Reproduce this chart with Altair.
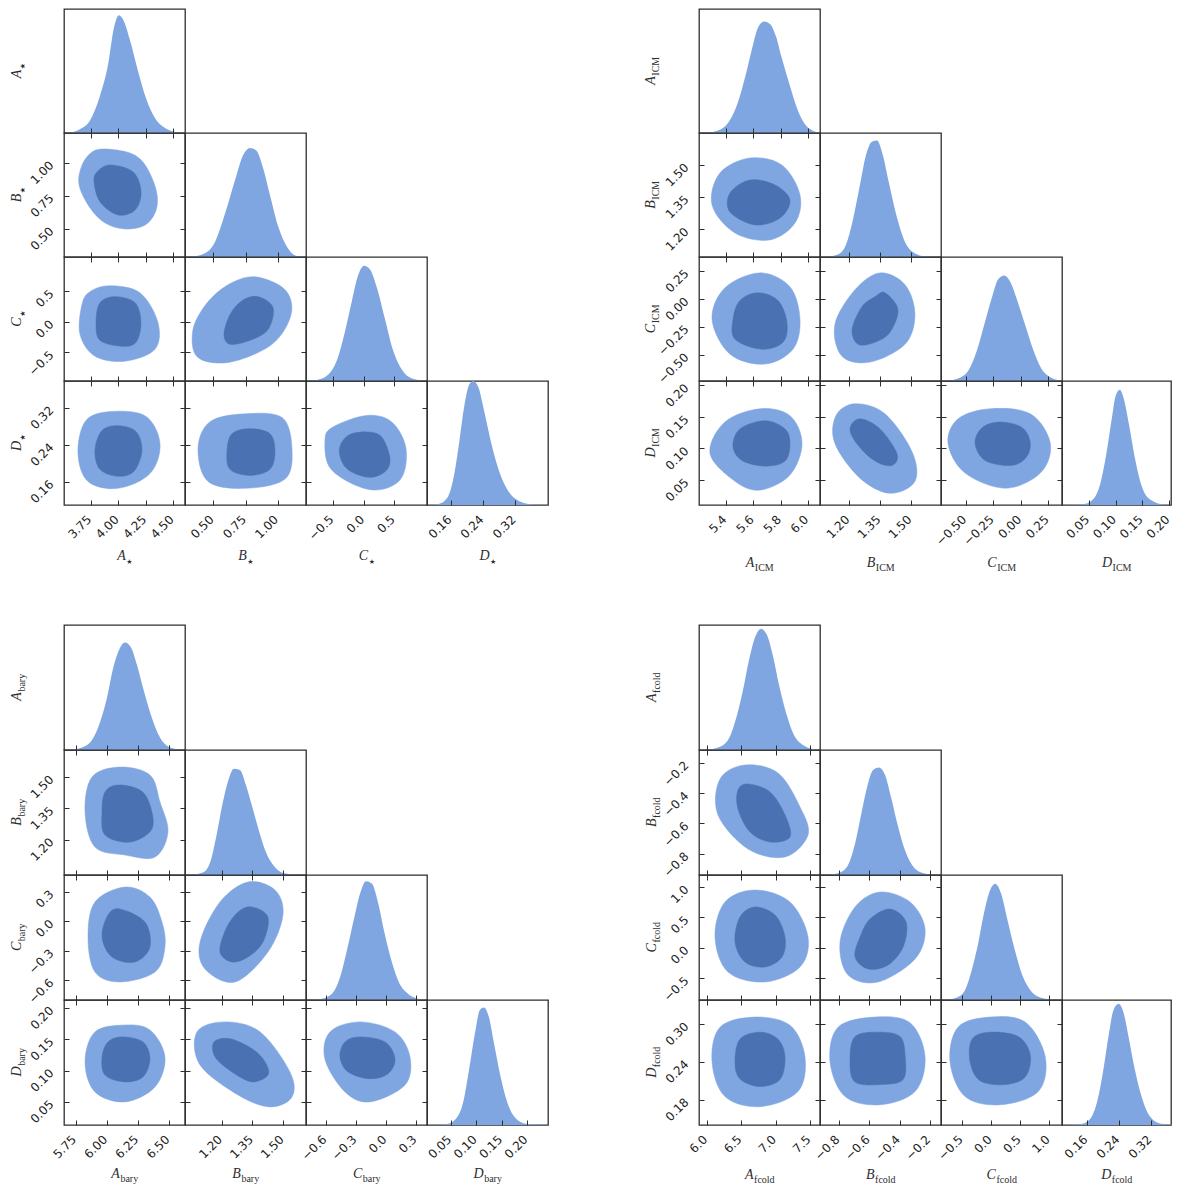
import altair as alt
import pandas as pd

INK = "#2e2e2e"
LIGHT = "#7fa6e1"
DARK = "#4a72b2"
SANS = "DejaVu Sans"
SERIF = "Liberation Serif, DejaVu Serif, serif"

# ---------------- corner 1 : star ----------------
STAR_XDOM = [[3.507, 4.606], [0.28, 1.22], [-0.94, 1.03], [0.10, 0.4015]]
STAR_YDOM = [None, [0.286, 1.225], [-0.966, 1.06], [0.11, 0.378]]
STAR_XTICKS = [[3.75, 4.0, 4.25, 4.5], [0.5, 0.75, 1.0], [-0.5, 0.0, 0.5], [0.16, 0.24, 0.32]]
STAR_YTICKS = [None, [0.5, 0.75, 1.0], [-0.5, 0.0, 0.5], [0.16, 0.24, 0.32]]
STAR_FMT = [".2f", ".2f", ".1f", ".2f"]

STAR_A_MX = [3.56, 3.652, 3.743, 3.834, 3.907, 3.961, 4.006, 4.052, 4.106, 4.179, 4.252, 4.333, 4.424, 4.542, 4.606]
STAR_A_MD = [0, 0.03, 0.1, 0.3, 0.55, 0.85, 0.95, 0.9, 0.75, 0.5, 0.28, 0.12, 0.04, 0.005, 0]
STAR_B_MX = [0.319, 0.435, 0.513, 0.591, 0.669, 0.731, 0.785, 0.832, 0.886, 0.94, 1.003, 1.073, 1.142, 1.22]
STAR_B_MD = [0, 0.03, 0.12, 0.35, 0.62, 0.82, 0.88, 0.86, 0.72, 0.5, 0.25, 0.08, 0.01, 0]
STAR_C_MX = [-0.94, -0.745, -0.582, -0.435, -0.305, -0.191, -0.093, 0.004, 0.102, 0.216, 0.346, 0.476, 0.623, 0.786, 1.03]
STAR_C_MD = [0, 0.01, 0.05, 0.17, 0.4, 0.65, 0.85, 0.93, 0.9, 0.75, 0.5, 0.25, 0.09, 0.02, 0]
STAR_D_MX = [0.106, 0.131, 0.151, 0.168, 0.18, 0.193, 0.205, 0.215, 0.228, 0.243, 0.26, 0.28, 0.305, 0.33, 0.362, 0.40]
STAR_D_MD = [0, 0.01, 0.06, 0.25, 0.5, 0.8, 0.97, 1.0, 0.95, 0.75, 0.5, 0.27, 0.1, 0.03, 0.005, 0]

STAR_AB_OUT = [(3.88, 1.104), (4.107, 1.073), (4.244, 0.983), (4.344, 0.793), (4.344, 0.642), (4.244, 0.528),
               (4.062, 0.498), (3.88, 0.543), (3.744, 0.657), (3.644, 0.831), (3.671, 0.983), (3.762, 1.081)]
STAR_AB_IN = [(3.925, 0.983), (4.135, 0.93), (4.207, 0.778), (4.153, 0.642), (3.998, 0.604), (3.835, 0.702),
              (3.78, 0.854), (3.807, 0.93)]
STAR_AC_OUT = [(3.925, 0.59), (4.197, 0.476), (4.36, -0.01), (4.333, -0.448), (4.061, -0.642), (3.788, -0.561),
               (3.652, -0.204), (3.67, 0.282), (3.743, 0.493)]
STAR_AC_IN = [(3.97, 0.412), (4.152, 0.314), (4.206, -0.01), (4.161, -0.334), (4.034, -0.399), (3.834, -0.302),
              (3.798, -0.01), (3.834, 0.314)]
STAR_BC_OUT = [(0.824, 0.736), (1.057, 0.525), (1.104, 0.12), (0.956, -0.366), (0.63, -0.658), (0.38, -0.58),
               (0.34, -0.15), (0.44, 0.28), (0.614, 0.606)]
STAR_BC_IN = [(0.847, 0.412), (0.964, 0.233), (0.925, -0.123), (0.785, -0.302), (0.63, -0.366), (0.583, -0.204),
              (0.63, 0.12), (0.723, 0.347)]
STAR_AD_OUT = [(3.907, 0.3115), (4.242, 0.303), (4.379, 0.243), (4.288, 0.178), (3.997, 0.146), (3.725, 0.161),
               (3.634, 0.221), (3.698, 0.29)]
STAR_AD_IN = [(3.997, 0.2815), (4.16, 0.269), (4.215, 0.228), (4.143, 0.183), (3.997, 0.172), (3.834, 0.187),
              (3.788, 0.228), (3.852, 0.271)]
STAR_BD_OUT = [(0.746, 0.307), (1.034, 0.299), (1.111, 0.232), (1.057, 0.166), (0.746, 0.146), (0.459, 0.161),
               (0.381, 0.232), (0.474, 0.29)]
STAR_BD_IN = [(0.785, 0.275), (0.94, 0.264), (0.979, 0.226), (0.94, 0.187), (0.785, 0.174), (0.63, 0.187),
              (0.606, 0.226), (0.645, 0.264)]
STAR_CD_OUT = [(0.048, 0.3035), (0.455, 0.2894), (0.688, 0.232), (0.59, 0.164), (0.102, 0.143), (-0.522, 0.1856),
               (-0.631, 0.25), (-0.496, 0.279)]
STAR_CD_IN = [(0.048, 0.268), (0.292, 0.2572), (0.427, 0.2107), (0.346, 0.182), (0.074, 0.17), (-0.277, 0.189),
              (-0.398, 0.2285), (-0.256, 0.26)]

# ---------------- corner 2 : ICM ----------------
ICM_XDOM = [[5.2, 6.09], [1.06, 1.645], [-0.725, 0.375], [0.0, 0.2034]]
ICM_YDOM = [None, [1.07, 1.65], [-0.734, 0.375], [0.0104, 0.207]]
ICM_XTICKS = [[5.4, 5.6, 5.8, 6.0], [1.2, 1.35, 1.5], [-0.5, -0.25, 0.0, 0.25], [0.05, 0.1, 0.15, 0.2]]
ICM_YTICKS = [None, [1.2, 1.35, 1.5], [-0.5, -0.25, 0.0, 0.25], [0.05, 0.1, 0.15, 0.2]]
ICM_FMT = [".1f", ".2f", ".2f", ".2f"]

ICM_A_MX = [5.244, 5.34, 5.413, 5.487, 5.546, 5.59, 5.634, 5.678, 5.722, 5.766, 5.81, 5.869, 5.928, 5.987, 6.046, 6.09]
ICM_A_MD = [0, 0.02, 0.08, 0.25, 0.48, 0.68, 0.85, 0.9, 0.88, 0.78, 0.6, 0.38, 0.18, 0.06, 0.015, 0]
ICM_B_MX = [1.084, 1.147, 1.186, 1.219, 1.253, 1.282, 1.311, 1.335, 1.364, 1.393, 1.427, 1.466, 1.509, 1.567, 1.645]
ICM_B_MD = [0, 0.02, 0.1, 0.3, 0.58, 0.82, 0.93, 0.94, 0.82, 0.6, 0.35, 0.14, 0.04, 0.005, 0]
ICM_C_MX = [-0.689, -0.57, -0.479, -0.397, -0.324, -0.26, -0.205, -0.15, -0.096, -0.032, 0.041, 0.114, 0.187, 0.269, 0.375]
ICM_C_MD = [0, 0.02, 0.08, 0.25, 0.48, 0.68, 0.82, 0.85, 0.8, 0.65, 0.45, 0.25, 0.1, 0.03, 0]
ICM_D_MX = [0.016, 0.044, 0.059, 0.072, 0.083, 0.093, 0.1, 0.108, 0.115, 0.125, 0.136, 0.149, 0.166, 0.189, 0.226]
ICM_D_MD = [0, 0.01, 0.05, 0.18, 0.42, 0.7, 0.88, 0.93, 0.86, 0.65, 0.38, 0.15, 0.04, 0.005, 0]

ICM_AB_OUT = [(5.575, 1.533), (5.81, 1.5), (5.943, 1.36), (5.906, 1.229), (5.722, 1.15), (5.465, 1.182),
              (5.296, 1.313), (5.354, 1.463)]
ICM_AB_IN = [(5.575, 1.43), (5.759, 1.407), (5.869, 1.337), (5.796, 1.252), (5.612, 1.22), (5.428, 1.28),
             (5.428, 1.369)]
ICM_AC_OUT = [(5.649, 0.233), (5.869, 0.109), (5.943, -0.184), (5.891, -0.45), (5.685, -0.583), (5.428, -0.494),
              (5.296, -0.184), (5.391, 0.1)]
ICM_AC_IN = [(5.634, 0.056), (5.781, -0.015), (5.847, -0.21), (5.818, -0.388), (5.662, -0.45), (5.465, -0.361),
             (5.45, -0.184), (5.501, -0.015)]
ICM_BC_OUT = [(1.35, 0.233), (1.471, 0.127), (1.519, -0.139), (1.471, -0.406), (1.302, -0.565), (1.166, -0.512),
              (1.132, -0.228), (1.229, 0.082)]
ICM_BC_IN = [(1.374, 0.056), (1.437, -0.095), (1.398, -0.299), (1.326, -0.388), (1.244, -0.406), (1.215, -0.272),
             (1.263, -0.069), (1.326, 0.02)]
ICM_AD_OUT = [(5.649, 0.163), (5.869, 0.152), (5.958, 0.108), (5.869, 0.058), (5.649, 0.034), (5.465, 0.048),
              (5.281, 0.092), (5.391, 0.142)]
ICM_AD_IN = [(5.685, 0.144), (5.833, 0.131), (5.869, 0.108), (5.833, 0.08), (5.685, 0.072), (5.516, 0.081),
             (5.45, 0.103), (5.501, 0.131)]
ICM_BD_OUT = [(1.229, 0.171), (1.374, 0.155), (1.505, 0.095), (1.519, 0.048), (1.398, 0.029), (1.253, 0.053),
              (1.132, 0.108), (1.137, 0.152)]
ICM_BD_IN = [(1.253, 0.147), (1.35, 0.131), (1.432, 0.092), (1.408, 0.073), (1.326, 0.08), (1.244, 0.105),
             (1.205, 0.131)]
ICM_CD_OUT = [(-0.278, 0.163), (0.087, 0.155), (0.269, 0.108), (0.178, 0.061), (-0.141, 0.037), (-0.506, 0.061),
              (-0.661, 0.108), (-0.57, 0.147)]
ICM_CD_IN = [(-0.187, 0.142), (0.014, 0.133), (0.087, 0.108), (0.041, 0.084), (-0.096, 0.073), (-0.324, 0.081),
             (-0.415, 0.108), (-0.351, 0.133)]

# ---------------- corner 3 : bary ----------------
BARY_XDOM = [[5.656, 6.629], [1.022, 1.61], [-0.8, 0.41], [0.003, 0.241]]
BARY_YDOM = [None, [1.03, 1.63], [-0.8, 0.47], [0.013, 0.213]]
BARY_XTICKS = [[5.75, 6.0, 6.25, 6.5], [1.2, 1.35, 1.5], [-0.6, -0.3, 0.0, 0.3], [0.05, 0.1, 0.15, 0.2]]
BARY_YTICKS = [None, [1.2, 1.35, 1.5], [-0.6, -0.3, 0.0, 0.3], [0.05, 0.1, 0.15, 0.2]]
BARY_FMT = [".2f", ".2f", ".1f", ".2f"]

BARY_A_MX = [5.704, 5.801, 5.881, 5.945, 6.002, 6.05, 6.098, 6.146, 6.195, 6.243, 6.299, 6.355, 6.412, 6.476, 6.556, 6.629]
BARY_A_MD = [0, 0.02, 0.08, 0.22, 0.42, 0.65, 0.8, 0.86, 0.82, 0.68, 0.47, 0.28, 0.13, 0.04, 0.008, 0]
BARY_B_MX = [1.046, 1.109, 1.144, 1.173, 1.202, 1.231, 1.26, 1.289, 1.318, 1.348, 1.382, 1.416, 1.455, 1.503, 1.61]
BARY_B_MD = [0, 0.02, 0.1, 0.3, 0.55, 0.75, 0.85, 0.84, 0.72, 0.55, 0.35, 0.18, 0.07, 0.015, 0]
BARY_C_MX = [-0.76, -0.64, -0.54, -0.46, -0.39, -0.32, -0.26, -0.2, -0.14, -0.08, -0.01, 0.06, 0.13, 0.22, 0.32, 0.41]
BARY_C_MD = [0, 0.01, 0.05, 0.18, 0.4, 0.65, 0.85, 0.95, 0.93, 0.78, 0.52, 0.3, 0.14, 0.05, 0.01, 0]
BARY_D_MX = [0.019, 0.044, 0.06, 0.074, 0.086, 0.098, 0.107, 0.115, 0.125, 0.135, 0.147, 0.161, 0.176, 0.198, 0.241]
BARY_D_MD = [0, 0.01, 0.05, 0.18, 0.45, 0.75, 0.92, 0.94, 0.86, 0.65, 0.4, 0.18, 0.06, 0.01, 0]

BARY_AB_OUT = [(6.106, 1.548), (6.347, 1.51), (6.428, 1.38), (6.492, 1.236), (6.388, 1.116), (6.146, 1.126),
               (5.905, 1.164), (5.825, 1.332), (5.881, 1.5)]
BARY_AB_IN = [(6.09, 1.462), (6.267, 1.438), (6.347, 1.366), (6.363, 1.251), (6.187, 1.188), (5.986, 1.222),
              (5.962, 1.332), (5.986, 1.428)]
BARY_AC_OUT = [(6.146, 0.348), (6.347, 0.246), (6.444, -0.008), (6.468, -0.262), (6.388, -0.516), (6.106, -0.617),
               (5.905, -0.516), (5.849, -0.16), (5.905, 0.196)]
BARY_AC_IN = [(6.106, 0.125), (6.307, -0.008), (6.347, -0.262), (6.227, -0.414), (6.042, -0.363), (5.962, -0.16),
              (6.01, 0.064)]
BARY_BC_OUT = [(1.328, 0.399), (1.459, 0.318), (1.498, 0.064), (1.425, -0.312), (1.265, -0.617), (1.119, -0.485),
               (1.095, -0.211), (1.192, 0.196)]
BARY_BC_IN = [(1.348, 0.145), (1.425, 0.043), (1.401, -0.211), (1.328, -0.363), (1.25, -0.414), (1.192, -0.312),
              (1.221, -0.079), (1.28, 0.094)]
BARY_AD_OUT = [(6.146, 0.173), (6.347, 0.165), (6.468, 0.122), (6.388, 0.074), (6.146, 0.05), (5.905, 0.066),
               (5.825, 0.114), (5.905, 0.162)]
BARY_AD_IN = [(6.122, 0.154), (6.291, 0.146), (6.347, 0.119), (6.291, 0.09), (6.146, 0.082), (5.986, 0.093),
              (5.962, 0.122), (6.01, 0.146)]
BARY_BD_OUT = [(1.216, 0.178), (1.387, 0.162), (1.532, 0.098), (1.542, 0.058), (1.435, 0.042), (1.28, 0.061),
               (1.095, 0.109), (1.08, 0.162)]
BARY_BD_IN = [(1.241, 0.151), (1.348, 0.135), (1.411, 0.114), (1.425, 0.093), (1.348, 0.082), (1.25, 0.098),
              (1.168, 0.122), (1.163, 0.146)]
BARY_CD_OUT = [(-0.26, 0.178), (0.09, 0.162), (0.24, 0.122), (0.19, 0.077), (-0.16, 0.05), (-0.41, 0.066),
               (-0.61, 0.118), (-0.56, 0.162)]
BARY_CD_IN = [(-0.26, 0.154), (-0.01, 0.146), (0.09, 0.119), (0.02, 0.095), (-0.16, 0.087), (-0.38, 0.098),
              (-0.46, 0.122), (-0.41, 0.146)]

# ---------------- corner 4 : fcold ----------------
FCOLD_XDOM = [[5.888, 7.645], [-0.925, -0.127], [-0.87, 1.22], [0.097, 0.37]]
FCOLD_YDOM = [None, [-0.94, -0.115], [-0.86, 1.2], [0.14, 0.338]]
FCOLD_XTICKS = [[6.0, 6.5, 7.0, 7.5], [-0.8, -0.6, -0.4, -0.2], [-0.5, 0.0, 0.5, 1.0], [0.16, 0.24, 0.32]]
FCOLD_YTICKS = [None, [-0.8, -0.6, -0.4, -0.2], [-0.5, 0.0, 0.5, 1.0], [0.18, 0.24, 0.30]]
FCOLD_FMT = [".1f", ".1f", ".1f", ".2f"]

FCOLD_A_MX = [5.975, 6.164, 6.309, 6.425, 6.527, 6.614, 6.701, 6.788, 6.875, 6.963, 7.05, 7.151, 7.267, 7.398, 7.543, 7.645]
FCOLD_A_MD = [0, 0.02, 0.08, 0.25, 0.48, 0.72, 0.9, 0.97, 0.92, 0.75, 0.52, 0.3, 0.12, 0.04, 0.008, 0]
FCOLD_B_MX = [-0.872, -0.793, -0.74, -0.694, -0.654, -0.615, -0.575, -0.536, -0.496, -0.456, -0.417, -0.371, -0.318, -0.258, -0.166]
FCOLD_B_MD = [0, 0.02, 0.08, 0.25, 0.48, 0.7, 0.84, 0.86, 0.8, 0.62, 0.42, 0.22, 0.08, 0.02, 0]
FCOLD_C_MX = [-0.801, -0.593, -0.454, -0.333, -0.229, -0.125, -0.021, 0.065, 0.169, 0.273, 0.394, 0.533, 0.671, 0.845, 1.104]
FCOLD_C_MD = [0, 0.02, 0.08, 0.25, 0.45, 0.7, 0.88, 0.93, 0.85, 0.65, 0.42, 0.2, 0.08, 0.02, 0]
FCOLD_D_MX = [0.113, 0.148, 0.168, 0.186, 0.201, 0.214, 0.226, 0.239, 0.251, 0.264, 0.279, 0.297, 0.317, 0.345, 0.40]
FCOLD_D_MD = [0, 0.01, 0.05, 0.2, 0.45, 0.72, 0.92, 0.97, 0.9, 0.7, 0.45, 0.22, 0.07, 0.01, 0]

FCOLD_AB_OUT = [(6.556, -0.214), (7.035, -0.267), (7.355, -0.491), (7.471, -0.676), (7.137, -0.821), (6.599, -0.768),
                (6.164, -0.544), (6.193, -0.306)]
FCOLD_AB_IN = [(6.599, -0.339), (6.919, -0.392), (7.137, -0.544), (7.209, -0.689), (6.919, -0.722), (6.629, -0.656),
               (6.454, -0.504), (6.454, -0.379)]
FCOLD_AC_OUT = [(6.701, 0.953), (7.209, 0.755), (7.471, 0.178), (7.355, -0.316), (6.846, -0.563), (6.309, -0.399),
                (6.12, 0.178), (6.265, 0.755)]
FCOLD_AC_IN = [(6.701, 0.673), (6.991, 0.541), (7.137, 0.178), (7.093, -0.151), (6.846, -0.316), (6.556, -0.234),
               (6.411, 0.096), (6.483, 0.508)]
FCOLD_BC_OUT = [(-0.529, 0.92), (-0.331, 0.755), (-0.232, 0.31), (-0.298, -0.184), (-0.542, -0.563), (-0.74, -0.448),
                (-0.793, 0.096), (-0.694, 0.673)]
FCOLD_BC_IN = [(-0.463, 0.64), (-0.357, 0.425), (-0.377, 0.013), (-0.476, -0.283), (-0.608, -0.349), (-0.694, -0.151),
               (-0.661, 0.178), (-0.595, 0.475)]
FCOLD_AD_OUT = [(6.701, 0.311), (7.209, 0.298), (7.427, 0.248), (7.325, 0.193), (6.774, 0.169), (6.265, 0.185),
                (6.077, 0.24), (6.193, 0.295)]
FCOLD_AD_IN = [(6.774, 0.287), (7.035, 0.276), (7.137, 0.248), (7.064, 0.212), (6.774, 0.201), (6.483, 0.213),
               (6.411, 0.24), (6.483, 0.276)]
FCOLD_BD_OUT = [(-0.562, 0.311), (-0.331, 0.302), (-0.232, 0.248), (-0.298, 0.193), (-0.529, 0.172), (-0.76, 0.185),
                (-0.859, 0.24), (-0.806, 0.295)]
FCOLD_BD_IN = [(-0.529, 0.287), (-0.397, 0.28), (-0.364, 0.251), (-0.377, 0.212), (-0.529, 0.204), (-0.694, 0.208),
               (-0.727, 0.24), (-0.694, 0.28)]
FCOLD_CD_OUT = [(-0.021, 0.311), (0.585, 0.303), (0.931, 0.248), (0.81, 0.193), (0.152, 0.172), (-0.454, 0.185),
                (-0.714, 0.24), (-0.576, 0.295)]
FCOLD_CD_IN = [(-0.021, 0.287), (0.464, 0.28), (0.672, 0.251), (0.585, 0.216), (0.238, 0.204), (-0.195, 0.21),
               (-0.368, 0.24), (-0.333, 0.276)]

LETTERS = ["A", "B", "C", "D"]
STAR = "\u2605"
MAIN_W = {"A": 8.6, "B": 8.6, "C": 9.3, "D": 10.1}
SUB_W = {STAR: 6.0, "ICM": 19.0, "bary": 17.8, "fcold": 20.5}

CORNERS = [
    dict(sub=STAR, xdom=STAR_XDOM, ydom=STAR_YDOM, xt=STAR_XTICKS, yt=STAR_YTICKS, fmt=STAR_FMT,
         marg=[(STAR_A_MX, STAR_A_MD), (STAR_B_MX, STAR_B_MD), (STAR_C_MX, STAR_C_MD), (STAR_D_MX, STAR_D_MD)],
         cont={"AB": (STAR_AB_OUT, STAR_AB_IN), "AC": (STAR_AC_OUT, STAR_AC_IN), "BC": (STAR_BC_OUT, STAR_BC_IN),
               "AD": (STAR_AD_OUT, STAR_AD_IN), "BD": (STAR_BD_OUT, STAR_BD_IN), "CD": (STAR_CD_OUT, STAR_CD_IN)},
         xoff=55, yoff=43),
    dict(sub="ICM", xdom=ICM_XDOM, ydom=ICM_YDOM, xt=ICM_XTICKS, yt=ICM_YTICKS, fmt=ICM_FMT,
         marg=[(ICM_A_MX, ICM_A_MD), (ICM_B_MX, ICM_B_MD), (ICM_C_MX, ICM_C_MD), (ICM_D_MX, ICM_D_MD)],
         cont={"AB": (ICM_AB_OUT, ICM_AB_IN), "AC": (ICM_AC_OUT, ICM_AC_IN), "BC": (ICM_BC_OUT, ICM_BC_IN),
               "AD": (ICM_AD_OUT, ICM_AD_IN), "BD": (ICM_BD_OUT, ICM_BD_IN), "CD": (ICM_CD_OUT, ICM_CD_IN)},
         xoff=62, yoff=44),
    dict(sub="bary", xdom=BARY_XDOM, ydom=BARY_YDOM, xt=BARY_XTICKS, yt=BARY_YTICKS, fmt=BARY_FMT,
         marg=[(BARY_A_MX, BARY_A_MD), (BARY_B_MX, BARY_B_MD), (BARY_C_MX, BARY_C_MD), (BARY_D_MX, BARY_D_MD)],
         cont={"AB": (BARY_AB_OUT, BARY_AB_IN), "AC": (BARY_AC_OUT, BARY_AC_IN), "BC": (BARY_BC_OUT, BARY_BC_IN),
               "AD": (BARY_AD_OUT, BARY_AD_IN), "BD": (BARY_BD_OUT, BARY_BD_IN), "CD": (BARY_CD_OUT, BARY_CD_IN)},
         xoff=53, yoff=43),
    dict(sub="fcold", xdom=FCOLD_XDOM, ydom=FCOLD_YDOM, xt=FCOLD_XTICKS, yt=FCOLD_YTICKS, fmt=FCOLD_FMT,
         marg=[(FCOLD_A_MX, FCOLD_A_MD), (FCOLD_B_MX, FCOLD_B_MD), (FCOLD_C_MX, FCOLD_C_MD), (FCOLD_D_MX, FCOLD_D_MD)],
         cont={"AB": (FCOLD_AB_OUT, FCOLD_AB_IN), "AC": (FCOLD_AC_OUT, FCOLD_AC_IN), "BC": (FCOLD_BC_OUT, FCOLD_BC_IN),
               "AD": (FCOLD_AD_OUT, FCOLD_AD_IN), "BD": (FCOLD_BD_OUT, FCOLD_BD_IN), "CD": (FCOLD_CD_OUT, FCOLD_CD_IN)},
         xoff=54, yoff=43),
]

COL_W = [121, 121, 121, 121, 150.5, 121, 121, 121, 109]
ROW_H = [124, 124, 124, 124, 120, 125, 125, 125, 125]
XPAD = 12
YPAD = 13
LABEL_SIZE = 12

ONE = pd.DataFrame({"k": [0]})
VIEW = alt.ViewBackground(stroke=INK, strokeWidth=1.3)


def poly_df(pts):
    return pd.DataFrame({"x": [p[0] for p in pts], "y": [p[1] for p in pts], "i": list(range(len(pts)))})


def make_axis(orient, values, fmt, labels, pad):
    kw = dict(orient=orient, values=values, format=fmt, labels=labels, ticks=True, tickSize=5, offset=-5,
              domain=False, grid=False, title=None, tickColor=INK, tickWidth=1, labelFont=SANS,
              labelFontSize=LABEL_SIZE, labelColor="#222222", labelAngle=315, labelAlign="right",
              labelBaseline="middle", labelPadding=pad, labelOverlap=False, labelFlush=False, zindex=1)
    if orient == "bottom":
        kw["labelOffset"] = -2
    return alt.Axis(**kw)


def sub_font(sub):
    return ("DejaVu Sans", 7) if sub == STAR else (SERIF, 10)


def x_title(letter, sub, W, H, off):
    mw, sw = MAIN_W[letter], SUB_W[sub]
    f, fs = sub_font(sub)
    ax = W / 2 - (sw - mw) / 2
    m = alt.Chart(ONE).mark_text(text=letter, font=SERIF, fontStyle="italic", fontSize=14, align="right",
                                 baseline="alphabetic", color=INK).encode(x=alt.value(ax), y=alt.value(H + off))
    s = alt.Chart(ONE).mark_text(text=sub, font=f, fontSize=fs, align="left", baseline="alphabetic",
                                 dy=3.5, color=INK).encode(x=alt.value(ax + 0.5), y=alt.value(H + off))
    return [m, s]


def y_title(letter, sub, W, H, off):
    mw, sw = MAIN_W[letter], SUB_W[sub]
    f, fs = sub_font(sub)
    ay = H / 2 + (sw - mw) / 2
    m = alt.Chart(ONE).mark_text(text=letter, font=SERIF, fontStyle="italic", fontSize=14, align="right",
                                 baseline="alphabetic", angle=270, color=INK).encode(x=alt.value(-off), y=alt.value(ay))
    s = alt.Chart(ONE).mark_text(text=sub, font=f, fontSize=fs, align="left", baseline="alphabetic",
                                 angle=270, dy=3.5, color=INK).encode(x=alt.value(-off), y=alt.value(ay - 0.5))
    return [m, s]


def spacer(w, h):
    return alt.Chart(ONE).mark_point(opacity=0, size=1).encode(x=alt.value(1), y=alt.value(1)).properties(
        width=w, height=h, view=alt.ViewBackground(stroke="transparent"))


def cell(cn, r, c, W, H):
    if c > r:
        return spacer(W, H)
    extra = []
    if c == 0:
        extra += y_title(LETTERS[r], cn["sub"], W, H, cn["yoff"])
    if r == 3:
        extra += x_title(LETTERS[c], cn["sub"], W, H, cn["xoff"])
    xs = alt.Scale(domain=cn["xdom"][c], nice=False, zero=False)
    if c == r:
        mx, md = cn["marg"][c]
        area = alt.Chart(pd.DataFrame({"x": mx, "d": md})).mark_area(
            color=LIGHT, interpolate="monotone", clip=True).encode(
            x=alt.X("x:Q", scale=xs, axis=make_axis("bottom", cn["xt"][c], cn["fmt"][c], r == 3, XPAD)),
            y=alt.Y("d:Q", scale=alt.Scale(domain=[0, 1], nice=False, zero=True), axis=None))
        return alt.layer(area, *extra).properties(width=W, height=H, view=VIEW)
    ys = alt.Scale(domain=cn["ydom"][r], nice=False, zero=False)
    out_pts, in_pts = cn["cont"][LETTERS[c] + LETTERS[r]]
    outer = alt.Chart(poly_df(out_pts)).mark_line(
        interpolate="cardinal-closed", fill=LIGHT, stroke=LIGHT, strokeWidth=0.5).encode(
        x=alt.X("x:Q", scale=xs, axis=make_axis("bottom", cn["xt"][c], cn["fmt"][c], r == 3, XPAD)),
        y=alt.Y("y:Q", scale=ys, axis=make_axis("left", cn["yt"][r], cn["fmt"][r], c == 0, YPAD)),
        order="i:Q")
    inner = alt.Chart(poly_df(in_pts)).mark_line(
        interpolate="cardinal-closed", fill=DARK, stroke=DARK, strokeWidth=0.5).encode(
        x=alt.X("x:Q", scale=xs, axis=make_axis("top", cn["xt"][c], cn["fmt"][c], False, XPAD)),
        y=alt.Y("y:Q", scale=ys, axis=make_axis("right", cn["yt"][r], cn["fmt"][r], False, YPAD)),
        order="i:Q")
    return alt.layer(outer, inner, *extra).resolve_axis(x="independent", y="independent").properties(
        width=W, height=H, view=VIEW)


cells = []
for R in range(9):
    H = ROW_H[R]
    for C in range(9):
        W = COL_W[C]
        if R == 4 or C == 4:
            cells.append(spacer(W, H))
            continue
        big_r = 0 if R < 4 else 1
        big_c = 0 if C < 4 else 1
        r = R if R < 4 else R - 5
        c = C if C < 4 else C - 5
        cells.append(cell(CORNERS[2 * big_r + big_c], r, c, W, H))

chart = alt.concat(*cells, columns=9, spacing=0, bounds="flush", align="each").properties(
    padding={"left": 1, "top": 0, "right": 0, "bottom": 0}
).configure_view(stroke=INK, strokeWidth=1.3).configure(background="white")

chart.save("out.html", embed_options={"renderer": "svg", "actions": False})
